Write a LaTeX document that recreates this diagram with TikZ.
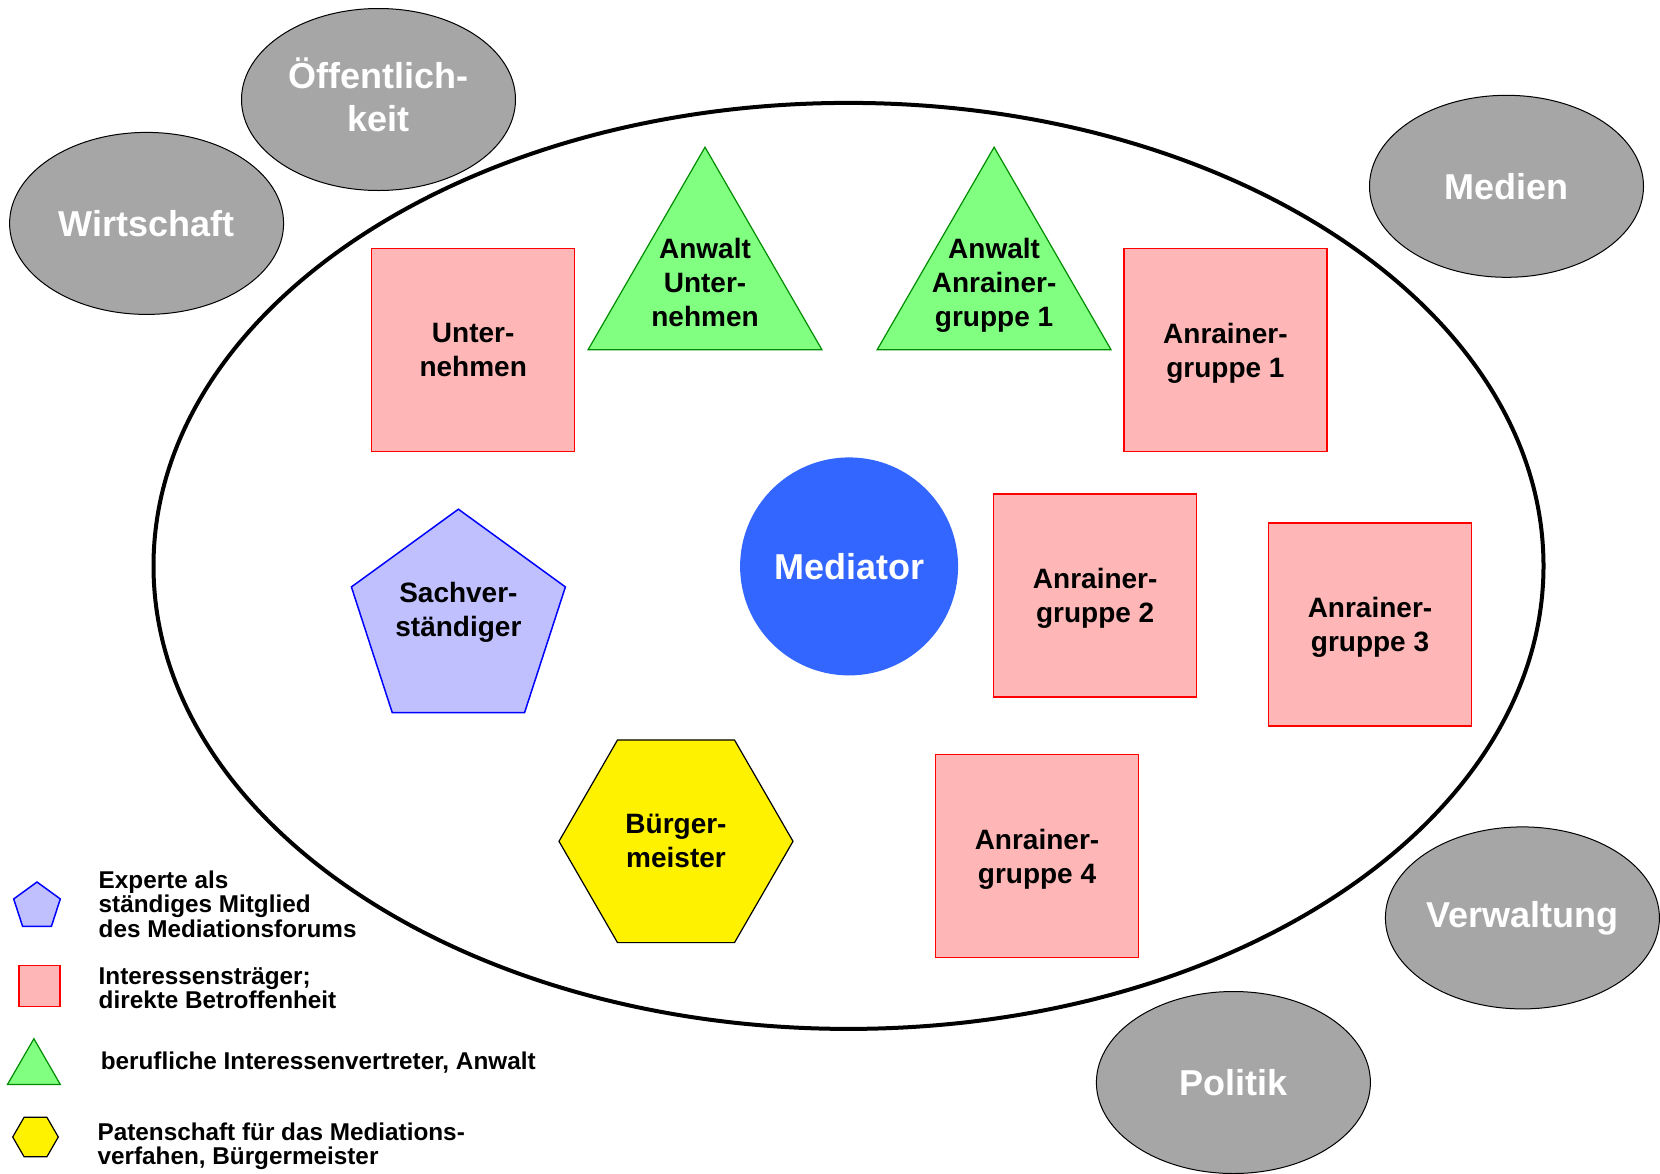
\documentclass[tikz,border=0pt]{standalone}
\usepackage{fontspec}
\setmainfont{Liberation Sans}
\usetikzlibrary{shapes}

\definecolor{umfeldgrau}{RGB}{166,166,166}
\definecolor{rosa}{RGB}{255,182,182}
\definecolor{hellgruen}{RGB}{128,255,128}
\definecolor{mittelblau}{RGB}{51,102,255}
\definecolor{hellblau}{RGB}{192,192,255}

\tikzset{
	umfeld/.style={ellipse, draw=black, line width=1pt, fill=umfeldgrau,
		minimum width=274pt, minimum height=182pt, inner sep=0pt,
		text=white, align=center, font=\fontsize{36}{43}\selectfont\bfseries},
	betroffen/.style={rectangle, draw=red, line width=1.5pt, fill=rosa,
		minimum size=203pt, inner sep=0pt, align=center, text depth=0pt,
		font=\fontsize{28}{34}\selectfont\bfseries},
	anwalt/.style={regular polygon, regular polygon sides=3, draw=green!55!black,
		line width=1.2pt, fill=hellgruen, minimum size=270pt, inner sep=0pt},
	experte/.style={regular polygon, regular polygon sides=5, draw=blue,
		line width=1.5pt, fill=hellblau, minimum size=225pt, inner sep=0pt},
	pate/.style={regular polygon, regular polygon sides=6, draw=black,
		line width=1.2pt, fill=yellow, minimum size=234pt, inner sep=0pt,
		align=center, font=\fontsize{28}{34}\selectfont\bfseries},
	rolle/.style={align=center, inner sep=0pt, text depth=0pt,
		font=\fontsize{28}{34}\selectfont\bfseries},
	legende/.style={anchor=north west, align=left, inner sep=0pt,
		font=\fontsize{24.3}{24.2}\selectfont\bfseries}
}

\begin{document}
\begin{tikzpicture}[x=1pt,y=-1pt]
	\useasboundingbox (0,0) rectangle (1660,1173);

	% Mediationsforum
	\node[ellipse, draw=black, line width=4pt, minimum width=1390pt,
		minimum height=926pt, inner sep=0pt] (forum) at (848.5,565.9) {};

	% Umfeld
	\node[umfeld, text depth=9pt] (oeff) at (378.5,99.5) {Öffentlich-\\keit};
	\foreach \pos/\name/\txt in
	{(146.6,223.4)/wirt/Wirtschaft, (1506.5,186.3)/medien/Medien,
	 (1522.4,917.9)/verw/Verwaltung, (1233.4,1082.5)/politik/Politik}
	{
		\node[umfeld] (\name) at \pos {\txt};
	}

	% Interessenstraeger
	\node[betroffen] (untern) at (473.2,349.9) {Unter-\\nehmen};
	\foreach \pos/\nr in
	{(1225.4,349.9)/1, (1095.2,595.5)/2, (1370,624.6)/3, (1037,855.9)/4}
	{
		\node[betroffen] (anr-\nr) at \pos {Anrainer-\\gruppe \nr};
	}

	% Anwaelte
	\node[anwalt] (anw-u) at (705,282.2) {};
	\node[rolle] (anw-u-t) at (anw-u) {Anwalt\\Unter-\\nehmen};
	\node[anwalt] (anw-a) at (994.1,282.2) {};
	\node[rolle] (anw-a-t) at (anw-a) {Anwalt\\Anrainer-\\gruppe 1};

	% Mediator, Sachverstaendiger, Buergermeister
	\node[circle, fill=mittelblau, minimum size=218pt, inner sep=0pt, text=white,
		font=\fontsize{36}{43}\selectfont\bfseries] (mediator) at (849.1,566.4) {Mediator};
	\node[experte] (sv) at (458.4,621.7) {};
	\node[rolle] (sv-t) at ([yshift=12pt]sv.center) {Sachver-\\ständiger};
	\node[pate] (bm) at (676,841.3) {Bürger-\\meister};

	% Legende
	\node[experte, minimum size=49pt] (lg-sv) at (37,906.5) {};
	\node[betroffen, minimum size=41pt] (lg-anr) at (39.7,986.2) {};
	\node[anwalt, minimum size=61pt] (lg-anw) at (33.9,1069.2) {};
	\node[pate, minimum size=45.6pt] (lg-bm) at (35.5,1137) {};

	\node[legende] (lt-sv) at (98.5,870.9) {Experte als\\ständiges Mitglied\\des Mediationsforums};
	\node[legende] (lt-anr) at (98.5,967.6) {Interessensträger;\\direkte Betroffenheit};
	\node[legende] (lt-anw) at (100.6,1051.7) {berufliche Interessenvertreter, Anwalt};
	\node[legende] (lt-bm) at (97.4,1122.4) {Patenschaft für das Mediations-\\verfahen, Bürgermeister};
\end{tikzpicture}
\end{document}
